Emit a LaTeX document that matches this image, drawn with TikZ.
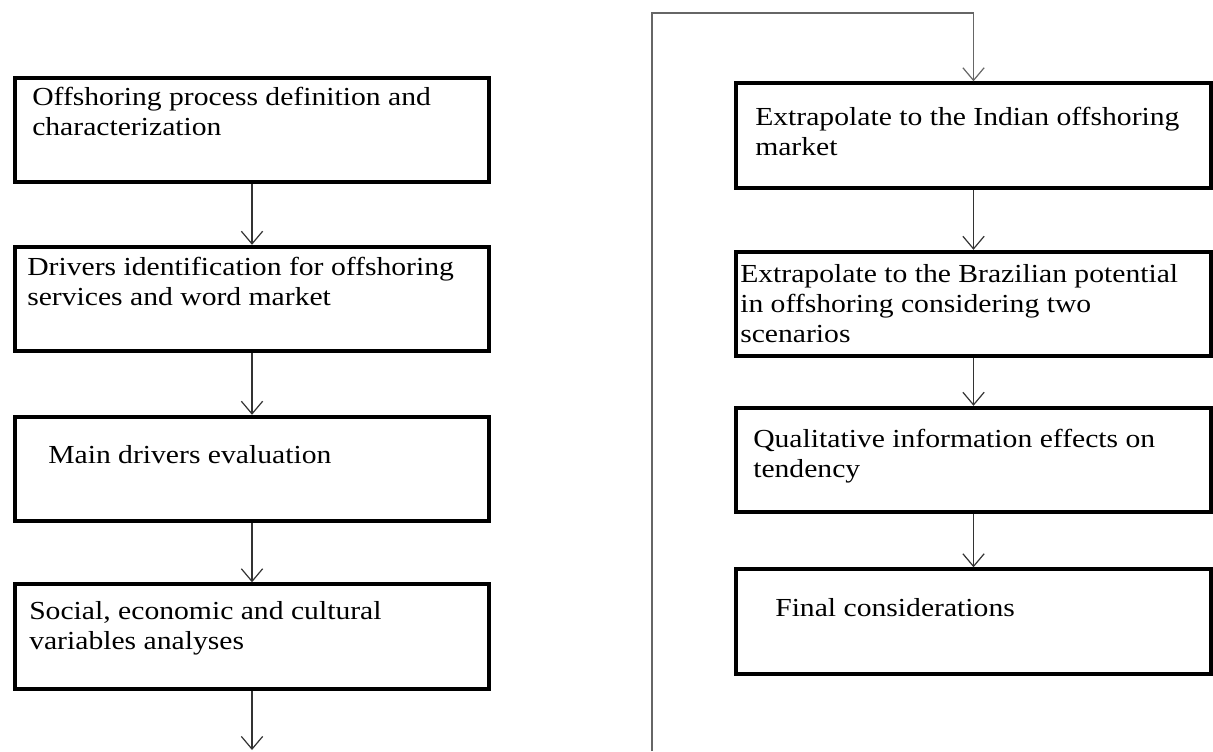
\documentclass[tikz,border=0pt]{standalone}
\usepackage{fontspec}
\setmainfont[FakeStretch=1.14]{Liberation Serif}
\usetikzlibrary{arrows.meta}
\begin{document}
\begin{tikzpicture}[x=0.75pt, y=-0.75pt]
        \tikzstyle{stepbox}=[draw=black, line width=2.8pt, inner sep=0pt, minimum width=356pt, minimum height=78.5pt]
        \tikzstyle{txt}=[anchor=north west, inner sep=0pt, align=left, font=\fontsize{19.5}{22.5}\selectfont]
        \tikzstyle{arr}=[draw=black!80, line width=0.9pt, -{Straight Barb[length=9.5pt, width=16pt, line width=0.9pt]}]
        \useasboundingbox (0,0) rectangle (1213,751);

        % left column
        \node (a)[stepbox] at (252,130) {};
        \node (b)[stepbox] at (252,299) {};
        \node (c)[stepbox] at (252,469) {};
        \node (d)[stepbox] at (252,636.5) {};

        \node (ta)[txt] at (32,87) {Offshoring process definition and\\characterization};
        \node (tb)[txt] at (27,257) {Drivers identification for offshoring\\services and word market};
        \node (tc)[txt] at (48,445) {Main drivers evaluation};
        \node (td)[txt] at (29,601) {Social, economic and cultural\\variables analyses};

        % right column
        \node (e)[stepbox] at (973.5,135.5) {};
        \node (f)[stepbox] at (973.5,304) {};
        \node (g)[stepbox] at (973.5,460) {};
        \node (h)[stepbox] at (973.5,621.5) {};

        \node (te)[txt] at (755,107) {Extrapolate to the Indian offshoring\\market};
        \node (tf)[txt] at (740,264) {Extrapolate to the Brazilian potential\\in offshoring considering two\\scenarios};
        \node (tg)[txt] at (753,429) {Qualitative information effects on\\tendency};
        \node (th)[txt] at (775,598) {Final considerations};

        \coordinate (out) at (252,750);
        \coordinate (s) at (652,751);
        \coordinate (k) at (652,13);

        \draw[arr] (a.south) -- (b.north);
        \draw[arr] (b.south) -- (c.north);
        \draw[arr] (c.south) -- (d.north);
        \draw[arr] (d.south) -- (out);

        \draw[arr, draw=black!60] (s) -- (k) -| (e.north);
        \draw[arr] (e.south) -- (f.north);
        \draw[arr] (f.south) -- (g.north);
        \draw[arr] (g.south) -- (h.north);
    \end{tikzpicture}
\end{document}
